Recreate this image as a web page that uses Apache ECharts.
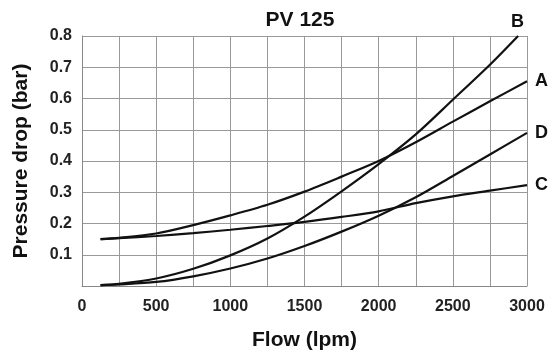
<!DOCTYPE html>
<html>
<head>
<meta charset="utf-8">
<script src="https://cdn.jsdelivr.net/npm/echarts@6/dist/echarts.min.js"></script>
<style>
  html, body { margin: 0; padding: 0; background: #fff; }
  #chart { width: 553px; height: 356px; }
</style>
</head>
<body>
<div id="chart"></div>
<script>
// Flow (lpm) sample points
var flowPoints = [125, 250, 500, 750, 1000, 1250, 1500, 1750, 2000, 2250, 2500, 2750, 3000];
var flowPointsB = [125, 250, 500, 750, 1000, 1250, 1500, 1750, 2000, 2250, 2500, 2750, 2940];
// Pressure drop (bar)
var curveA = [0.150, 0.154, 0.168, 0.195, 0.226, 0.260, 0.302, 0.350, 0.400, 0.460, 0.526, 0.591, 0.655];
var curveB = [0.003, 0.007, 0.024, 0.055, 0.098, 0.152, 0.222, 0.303, 0.390, 0.485, 0.596, 0.708, 0.800];
var curveC = [0.150, 0.153, 0.160, 0.169, 0.180, 0.192, 0.205, 0.221, 0.239, 0.265, 0.287, 0.305, 0.323];
var curveD = [0.003, 0.005, 0.013, 0.031, 0.056, 0.088, 0.128, 0.174, 0.225, 0.284, 0.352, 0.421, 0.490];
var curveNames = ['A', 'B', 'C', 'D'];
var xTicks = [0, 500, 1000, 1500, 2000, 2500, 3000];
var yTicks = [0.1, 0.2, 0.3, 0.4, 0.5, 0.6, 0.7, 0.8];

function pairs(xs, ys) { return xs.map(function (x, i) { return [x, ys[i]]; }); }

var FONT = '"Liberation Sans", Arial, sans-serif';
var lineStyle = { color: '#111', width: 2.2 };
var labelBase = { show: true, fontFamily: FONT, fontWeight: 'bold', fontSize: 18, color: '#111' };

function mkSeries(name, xs, ys, labelOpt) {
  return {
    name: name,
    type: 'line',
    data: pairs(xs, ys),
    smooth: 0.3,
    showSymbol: false,
    lineStyle: lineStyle,
    itemStyle: { color: '#111' },
    endLabel: Object.assign({}, labelBase, { formatter: name }, labelOpt),
    emphasis: { disabled: true },
    silent: true
  };
}

var chart = echarts.init(document.getElementById('chart'), null, { renderer: 'canvas' });
chart.setOption({
  animation: false,
  backgroundColor: '#fff',
  title: {
    text: 'PV 125',
    left: 295, top: 5,
    textAlign: 'center',
    textStyle: { fontFamily: FONT, fontWeight: 'bold', fontSize: 21, color: '#111' }
  },
  grid: { left: 82, right: 26, top: 36, bottom: 68.5, containLabel: false },
  xAxis: {
    type: 'value',
    min: 0, max: 3000, interval: 250,
    name: 'Flow (lpm)',
    nameLocation: 'middle',
    nameGap: 44,
    nameTextStyle: { fontFamily: FONT, fontWeight: 'bold', fontSize: 21, color: '#111' },
    axisLine: { show: true, lineStyle: { color: '#888', width: 1 } },
    axisTick: { show: false },
    splitLine: { show: true, lineStyle: { color: '#999', width: 1 } },
    axisLabel: {
      margin: 13,
      fontFamily: FONT, fontWeight: 'bold', fontSize: 16, color: '#222',
      formatter: function (v) { return xTicks.indexOf(v) >= 0 ? String(v) : ''; }
    }
  },
  yAxis: {
    type: 'value',
    min: 0, max: 0.8, interval: 0.1,
    name: 'Pressure drop (bar)',
    nameLocation: 'middle',
    nameGap: 50,
    nameTextStyle: { fontFamily: FONT, fontWeight: 'bold', fontSize: 21, color: '#111' },
    axisLine: { show: true, lineStyle: { color: '#888', width: 1 } },
    axisTick: { show: false },
    splitLine: { show: true, lineStyle: { color: '#999', width: 1 } },
    axisLabel: {
      margin: 10,
      fontFamily: FONT, fontWeight: 'bold', fontSize: 16, color: '#222',
      formatter: function (v) {
        var r = Math.round(v * 10) / 10;
        return yTicks.indexOf(r) >= 0 ? r.toFixed(1) : '';
      }
    }
  },
  series: [
    mkSeries(curveNames[0], flowPoints, curveA, { distance: 8, offset: [0, 0] }),
    mkSeries(curveNames[1], flowPointsB, curveB, { distance: 0, offset: [-7, -14] }),
    mkSeries(curveNames[2], flowPoints, curveC, { distance: 8, offset: [0, 0] }),
    mkSeries(curveNames[3], flowPoints, curveD, { distance: 8, offset: [0, 0] })
  ]
});
</script>
</body>
</html>
